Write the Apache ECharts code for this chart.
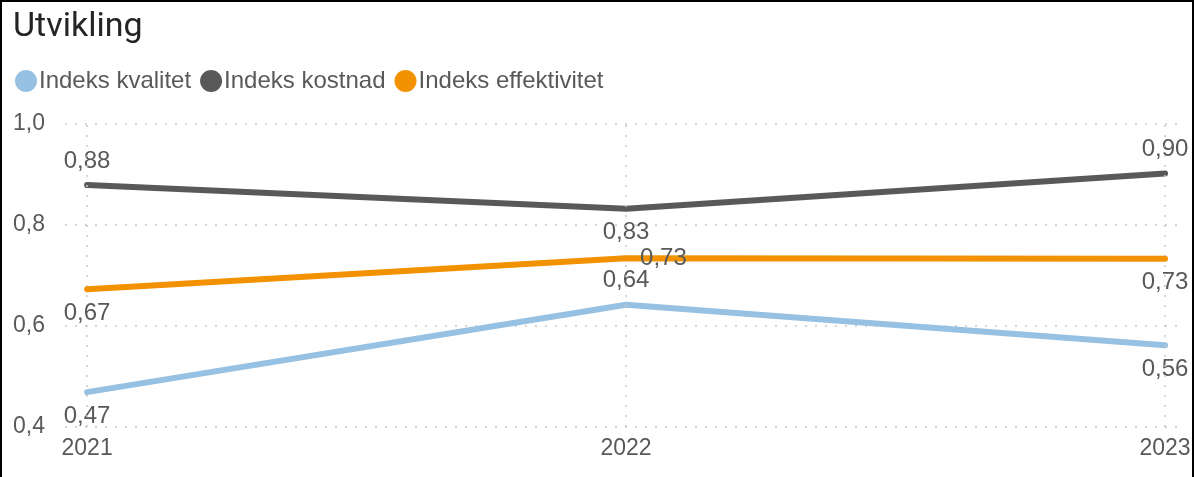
<!DOCTYPE html>
<html>
<head>
<meta charset="utf-8">
<script src="https://cdn.jsdelivr.net/npm/echarts@6/dist/echarts.min.js"></script>
<style>
html,body{margin:0;padding:0;background:#fff;}
#frame{position:absolute;left:0;top:0;width:1194px;height:477px;box-sizing:border-box;border-left:2px solid #000;border-top:2px solid #000;border-right:2px solid #000;pointer-events:none;}
#chart{position:absolute;left:0;top:0;width:1194px;height:477px;}
</style>
</head>
<body>
<div id="chart"></div>
<div id="frame"></div>
<script>
const years = [2021, 2022, 2023];
const seriesNames = ['Indeks kvalitet', 'Indeks kostnad', 'Indeks effektivitet'];
const kvalitet = [0.469, 0.642, 0.562];
const kostnad = [0.879, 0.832, 0.902];
const effektivitet = [0.673, 0.734, 0.733];
const yTicks = [0.4, 0.6, 0.8, 1.0];

const colors = ['#97C1E2', '#595959', '#F39200'];
const labelPos = [
  ['bottom', 'top', 'bottom'],
  ['top', 'bottom', 'top'],
  ['bottom', 'right', 'bottom']
];
const fmt = v => v.toFixed(2).replace('.', ',');
const txt = '#595959';
const font = 'Liberation Sans, Arial, sans-serif';

function mk(i, vals) {
  return {
    name: seriesNames[i],
    type: 'line',
    symbol: 'circle',
    symbolSize: 2,
    showSymbol: true,
    showAllSymbol: true,
    lineStyle: { width: 6, color: colors[i], cap: 'round', join: 'round' },
    itemStyle: { color: colors[i] },
    data: years.map((y, k) => ({
      value: [y, vals[k]],
      itemStyle: { color: 'rgba(0,0,0,0)' },
      label: { show: true, position: labelPos[i][k], distance: labelPos[i][k] === 'right' ? 13 : 11 }
    })),
    label: {
      show: true, color: txt, fontSize: 24, fontFamily: font,
      formatter: p => fmt(p.value[1])
    },
    labelLayout: { hideOverlap: false },
    emphasis: { disabled: true },
    z: 3 + i
  };
}

const s = [mk(0, kvalitet), mk(1, kostnad), mk(2, effektivitet)];
s[0].markLine = {
  silent: true, symbol: 'none', label: { show: false },
  lineStyle: { color: '#C8C8C8', width: 1.5, type: [2, 8] },
  data: years.map(y => ({ xAxis: y }))
};

const chart = echarts.init(document.getElementById('chart'), null, { renderer: 'canvas' });
chart.setOption({
  animation: false,
  backgroundColor: '#fff',
  title: {
    text: 'Utvikling', left: 8, top: 5,
    textStyle: { fontFamily: 'Roboto, sans-serif', fontSize: 34, fontWeight: 'normal', color: '#252423' }
  },
  legend: {
    left: 10, top: 64, itemWidth: 22, itemHeight: 22, itemGap: 9,
    icon: 'circle',
    textStyle: { fontFamily: font, fontSize: 24, color: txt, padding: [0, 0, 0, -3] },
    data: seriesNames.map((n, i) => ({ name: n, itemStyle: { color: colors[i] } }))
  },
  grid: { left: 65, right: 16, top: 124, bottom: 50 },
  xAxis: {
    type: 'value', min: 2020.959, max: 2023.024,
    axisLine: { show: false }, axisTick: { show: false }, splitLine: { show: false },
    axisLabel: {
      customValues: years, color: txt, fontSize: 23, fontFamily: font, margin: 10,
      formatter: v => String(v)
    }
  },
  yAxis: {
    type: 'value', min: 0.4, max: 1.0, interval: 0.2,
    axisLine: { show: false }, axisTick: { show: false },
    axisLabel: { color: txt, fontSize: 23, fontFamily: font, margin: 20,
      formatter: v => v.toFixed(1).replace('.', ',') },
    splitLine: { lineStyle: { color: '#C8C8C8', width: 1.5, type: [2, 8] } }
  },
  series: s
});
</script>
</body>
</html>
